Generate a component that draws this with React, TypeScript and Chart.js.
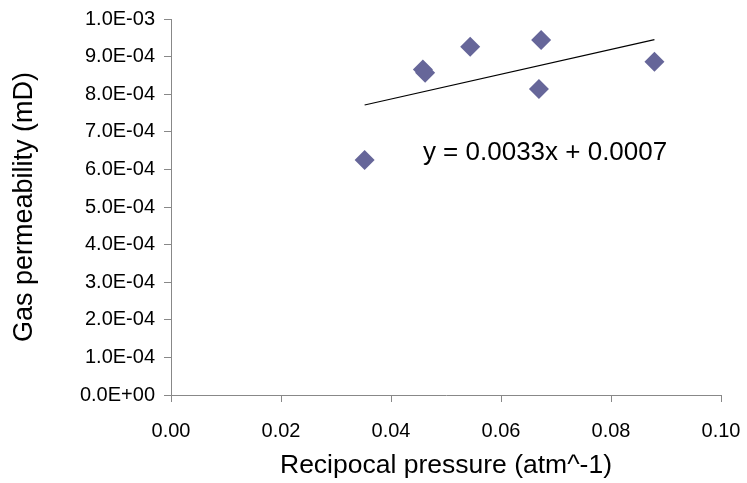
import React, { useEffect, useRef } from "react";
import { Chart, registerables } from "chart.js";

Chart.register(...registerables);

// Reciprocal pressure (atm^-1)
const reciprocalPressure = [0.0352, 0.0458, 0.0462, 0.0544, 0.0673, 0.0669, 0.0879];
// Gas permeability (mD)
const permeability = [6.25e-4, 8.66e-4, 8.57e-4, 9.26e-4, 9.44e-4, 8.14e-4, 8.86e-4];

const xTicks = [0, 0.02, 0.04, 0.06, 0.08, 0.1];
const yTicks = [0, 1e-4, 2e-4, 3e-4, 4e-4, 5e-4, 6e-4, 7e-4, 8e-4, 9e-4, 1e-3];

const equationText = "y = 0.0033x + 0.0007";
const equationAnchor = { x: 0.0458, y: 6.44e-4 };

const FONT = "'Liberation Sans', Arial, Helvetica, sans-serif";

function fmtExp(v: number): string {
  const s = v.toExponential(1).toUpperCase(); // e.g. 1.0E-3
  const m = s.match(/^(-?[\d.]+)E([+-])(\d+)$/);
  if (!m) return s;
  return `${m[1]}E${m[2]}${m[3].padStart(2, "0")}`;
}

// least-squares trend line from the data
function trend() {
  const n = reciprocalPressure.length;
  const mx = reciprocalPressure.reduce((a, b) => a + b, 0) / n;
  const my = permeability.reduce((a, b) => a + b, 0) / n;
  let sxy = 0, sxx = 0;
  for (let i = 0; i < n; i++) {
    sxy += (reciprocalPressure[i] - mx) * (permeability[i] - my);
    sxx += (reciprocalPressure[i] - mx) ** 2;
  }
  const slope = sxy / sxx;
  const icpt = my - slope * mx;
  const x0 = Math.min(...reciprocalPressure);
  const x1 = Math.max(...reciprocalPressure);
  return [
    { x: x0, y: icpt + slope * x0 },
    { x: x1, y: icpt + slope * x1 },
  ];
}

const equationPlugin = {
  id: "equationLabel",
  afterDatasetsDraw(chart: any) {
    const { ctx, scales } = chart;
    const px = scales.x.getPixelForValue(equationAnchor.x);
    const py = scales.y.getPixelForValue(equationAnchor.y);
    ctx.save();
    ctx.font = `26px ${FONT}`;
    ctx.fillStyle = "#000";
    ctx.textAlign = "left";
    ctx.textBaseline = "middle";
    ctx.fillText(equationText, px, py);
    ctx.restore();
  },
};

export default function App() {
  const ref = useRef<HTMLCanvasElement | null>(null);

  useEffect(() => {
    document.body.style.margin = "0";
    const canvas = ref.current;
    if (!canvas) return;
    const chart = new Chart(canvas, {
      type: "scatter",
      data: {
        datasets: [
          {
            type: "line",
            data: trend(),
            borderColor: "#000",
            borderWidth: 1.2,
            pointRadius: 0,
            fill: false,
            order: 2,
          } as any,
          {
            data: reciprocalPressure.map((x, i) => ({ x, y: permeability[i] })),
            backgroundColor: "#666699",
            borderColor: "#666699",
            borderWidth: 0,
            pointStyle: "rectRot",
            pointRadius: 10,
            order: 1,
          },
        ],
      },
      options: {
        responsive: false,
        animation: false,
        devicePixelRatio: 1,
        layout: { padding: { top: 19, right: 26, bottom: 0, left: 0 } },
        plugins: {
          legend: { display: false },
          tooltip: { enabled: false },
        },
        scales: {
          x: {
            type: "linear",
            min: 0,
            max: 0.1,
            afterBuildTicks: (s: any) => {
              s.ticks = xTicks.map((v) => ({ value: v }));
            },
            afterFit: (s: any) => {
              s.height = 88;
              s.paddingLeft = 0;
              s.paddingRight = 0;
            },
            ticks: {
              callback: (v: any) => Number(v).toFixed(2),
              color: "#000",
              font: { family: FONT, size: 20 },
              padding: 17,
              maxRotation: 0,
            },
            grid: {
              drawOnChartArea: false,
              drawTicks: true,
              tickLength: 7,
              color: "#888",
            },
            border: { display: true, color: "#888", width: 1 },
            title: {
              display: true,
              text: "Recipocal pressure (atm^-1)",
              color: "#000",
              font: { family: FONT, size: 26.5 },
              padding: { top: 0, bottom: 1 },
            },
          },
          y: {
            type: "linear",
            min: 0,
            max: 0.001,
            afterBuildTicks: (s: any) => {
              s.ticks = yTicks.map((v) => ({ value: v }));
            },
            afterFit: (s: any) => {
              s.width = 171;
              s.paddingTop = 0;
              s.paddingBottom = 0;
            },
            ticks: {
              callback: (v: any) => fmtExp(Number(v)),
              color: "#000",
              font: { family: FONT, size: 20 },
              padding: 9,
            },
            grid: {
              drawOnChartArea: false,
              drawTicks: true,
              tickLength: 7,
              color: "#888",
            },
            border: { display: true, color: "#888", width: 1 },
            title: {
              display: true,
              text: "Gas permeability (mD)",
              color: "#000",
              font: { family: FONT, size: 27 },
              padding: { top: 8, bottom: 0 },
            },
          },
        },
      },
      plugins: [equationPlugin],
    });
    return () => chart.destroy();
  }, []);

  return <canvas ref={ref} width={747} height={483} style={{ display: "block" }} />;
}
